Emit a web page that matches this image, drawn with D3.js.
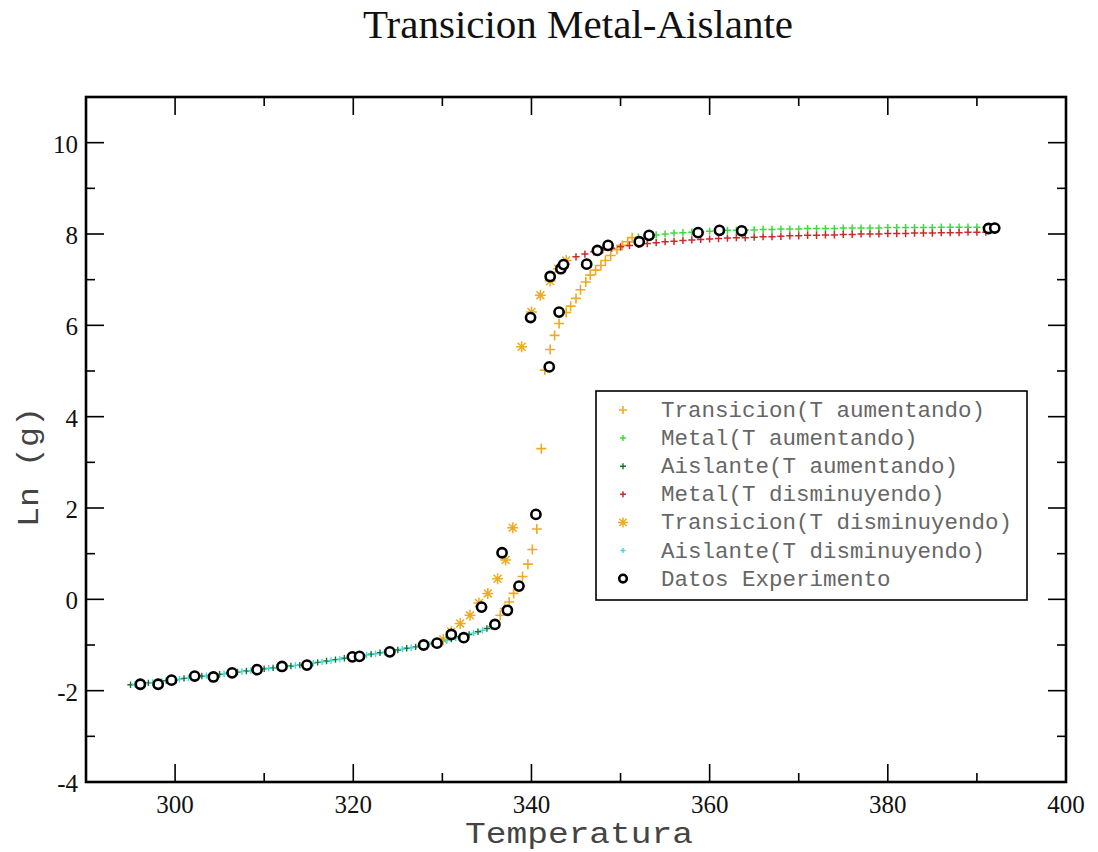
<!DOCTYPE html>
<html>
<head>
<meta charset="utf-8">
<script src="https://cdn.jsdelivr.net/npm/d3@7/dist/d3.min.js"></script>
<style>
  html, body { margin: 0; padding: 0; background: #fff; }
  svg { display: block; }
</style>
</head>
<body>
<svg id="chart" width="1098" height="852"></svg>
<script>
// ---- Data ----
// Transicion (T aumentando)
const transAumT = [336.5, 337.0, 337.5, 338.0, 339.0, 339.6, 340.1, 340.6, 341.1, 341.5, 342.1, 342.6, 343.1, 343.9, 344.4, 345.0, 345.5, 346.1, 346.6, 347.2, 347.8, 348.3, 348.9, 349.6, 350.2, 350.8, 351.3];
const transAumV = [-0.35, -0.20, -0.06, 0.13, 0.50, 0.77, 1.09, 1.54, 3.30, 5.02, 5.47, 5.78, 6.04, 6.28, 6.42, 6.59, 6.78, 6.95, 7.10, 7.21, 7.31, 7.42, 7.53, 7.66, 7.75, 7.83, 7.92];

// Metal (T aumentando)
const metalAumT = [352, 353, 354, 355, 356, 357, 358, 359, 360, 361, 362, 363, 364, 365, 366, 367, 368, 369, 370, 371, 372, 373, 374, 375, 376, 377, 378, 379, 380, 381, 382, 383, 384, 385, 386, 387, 388, 389, 390, 391];
const metalAumV = [7.93, 7.96, 7.98, 8.00, 8.02, 8.03, 8.04, 8.05, 8.06, 8.07, 8.08, 8.08, 8.09, 8.09, 8.10, 8.10, 8.11, 8.11, 8.11, 8.12, 8.12, 8.12, 8.12, 8.13, 8.13, 8.13, 8.13, 8.13, 8.14, 8.14, 8.14, 8.14, 8.14, 8.14, 8.15, 8.15, 8.15, 8.15, 8.15, 8.15];

// Aislante (T aumentando)
const aisAumT = [295, 296, 297, 298, 299, 300, 301, 302, 303, 304, 305, 306, 307, 308, 309, 310, 311, 312, 313, 314, 315, 316, 317, 318, 319, 320, 321, 322, 323, 324, 325, 326, 327, 328, 329, 330, 331, 332, 333, 334, 335, 336];
const aisAumV = [-1.87, -1.85, -1.83, -1.81, -1.78, -1.76, -1.73, -1.70, -1.68, -1.66, -1.64, -1.62, -1.59, -1.57, -1.54, -1.52, -1.50, -1.48, -1.46, -1.44, -1.41, -1.38, -1.35, -1.32, -1.29, -1.26, -1.23, -1.20, -1.17, -1.14, -1.11, -1.07, -1.04, -1.00, -0.96, -0.91, -0.87, -0.82, -0.77, -0.71, -0.64, -0.56];

// Metal (T disminuyendo)
const metalDisT = [345, 346, 347, 348, 349, 350, 351, 352, 353, 354, 355, 356, 357, 358, 359, 360, 361, 362, 363, 364, 365, 366, 367, 368, 369, 370, 371, 372, 373, 374, 375, 376, 377, 378, 379, 380, 381, 382, 383, 384, 385, 386, 387, 388, 389, 390, 391];
const metalDisV = [7.50, 7.56, 7.61, 7.65, 7.69, 7.72, 7.75, 7.77, 7.79, 7.81, 7.83, 7.84, 7.86, 7.87, 7.88, 7.89, 7.90, 7.91, 7.92, 7.92, 7.93, 7.94, 7.94, 7.95, 7.96, 7.96, 7.97, 7.97, 7.98, 7.98, 7.99, 7.99, 8.00, 8.00, 8.00, 8.01, 8.01, 8.01, 8.02, 8.02, 8.02, 8.03, 8.03, 8.03, 8.04, 8.04, 8.04];

// Transicion (T disminuyendo)
const transDisT = [330.1, 331.0, 332.0, 333.1, 334.1, 335.1, 336.2, 337.1, 337.9, 338.9, 340.0, 341.0, 342.1, 343.0, 343.9];
const transDisV = [-0.88, -0.71, -0.53, -0.35, -0.08, 0.13, 0.45, 0.86, 1.57, 5.53, 6.29, 6.66, 6.97, 7.24, 7.42];

// Aislante (T disminuyendo)
const aisDisT = [295.5, 296.5, 297.5, 298.5, 299.5, 300.5, 301.5, 302.5, 303.5, 304.5, 305.5, 306.5, 307.5, 308.5, 309.5, 310.5, 311.5, 312.5, 313.5, 314.5, 315.5, 316.5, 317.5, 318.5, 319.5, 320.5, 321.5, 322.5, 323.5, 324.5, 325.5, 326.5, 327.5, 328.5, 329.5, 330.5, 331.5, 332.5, 333.5, 334.5, 335.5];
const aisDisV = [-1.86, -1.84, -1.82, -1.80, -1.77, -1.75, -1.72, -1.69, -1.67, -1.65, -1.63, -1.61, -1.58, -1.56, -1.53, -1.51, -1.49, -1.47, -1.45, -1.43, -1.40, -1.37, -1.34, -1.31, -1.28, -1.25, -1.22, -1.19, -1.16, -1.13, -1.09, -1.06, -1.02, -0.98, -0.94, -0.89, -0.85, -0.80, -0.74, -0.68, -0.60];

// Datos Experimento
const expT = [296.1, 298.1, 299.6, 302.2, 304.3, 306.4, 309.2, 312.0, 314.8, 319.9, 320.7, 324.1, 327.9, 329.4, 331.0, 332.4, 334.4, 335.9, 336.7, 337.3, 338.6, 340.5, 342.0, 339.9, 343.1, 342.1, 343.3, 343.6, 346.2, 347.4, 348.6, 352.1, 353.2, 358.7, 361.1, 363.6, 391.3, 392.0];
const expV = [-1.86, -1.86, -1.77, -1.68, -1.70, -1.61, -1.54, -1.47, -1.44, -1.26, -1.25, -1.15, -1.00, -0.96, -0.77, -0.84, -0.17, -0.55, 1.02, -0.24, 0.29, 1.86, 5.09, 6.17, 6.29, 7.07, 7.24, 7.33, 7.34, 7.64, 7.75, 7.83, 7.97, 8.03, 8.08, 8.07, 8.12, 8.13];

// Axis ticks
const xMajorTicks = [300, 320, 340, 360, 380, 400];
const xMinorTicks = [290, 310, 330, 350, 370, 390];
const yMajorTicks = [-4, -2, 0, 2, 4, 6, 8, 10];
const yMinorTicks = [-3, -1, 1, 3, 5, 7, 9, 11];

// Series definitions (drawing order follows legend order)
const series = [
  { name: "Transicion(T aumentando)",   t: transAumT, v: transAumV, color: "#f0aa20", shape: "plus",  size: 5,   legendSize: 4,   width: 1.6 },
  { name: "Metal(T aumentando)",        t: metalAumT, v: metalAumV, color: "#3cdc3c", shape: "plus",  size: 3.6, legendSize: 3,   width: 1.5 },
  { name: "Aislante(T aumentando)",     t: aisAumT,   v: aisAumV,   color: "#1c6e2c", shape: "plus",  size: 3.2, legendSize: 3,   width: 1.4 },
  { name: "Metal(T disminuyendo)",      t: metalDisT, v: metalDisV, color: "#cc2a2a", shape: "plus",  size: 3.6, legendSize: 3,   width: 1.5 },
  { name: "Transicion(T disminuyendo)", t: transDisT, v: transDisV, color: "#f0aa20", shape: "star",  size: 5.5, legendSize: 5,   width: 1.5 },
  { name: "Aislante(T disminuyendo)",   t: aisDisT,   v: aisDisV,   color: "#38dcdc", shape: "plus",  size: 3.2, legendSize: 2.5, width: 1.4 },
  { name: "Datos Experimento",          t: expT,      v: expV,      color: "#000000", shape: "circle", size: 4.6, legendSize: 3.8, width: 2.6 }
];

// ---- Layout ----
const svg = d3.select("#chart");
const W = 1098, H = 852;
const plot = { left: 86, right: 1066, top: 97, bottom: 782 };

svg.append("rect").attr("width", W).attr("height", H).attr("fill", "#fff");

const x = d3.scaleLinear().domain([290, 400]).range([plot.left, plot.right]);
const y = d3.scaleLinear().domain([-4, 11]).range([plot.bottom, plot.top]);

// Marker path generators
function markerPath(shape, s) {
  if (shape === "plus") return `M${-s},0H${s}M0,${-s}V${s}`;
  if (shape === "star") {
    const d = s * 0.72;
    return `M${-s},0H${s}M0,${-s}V${s}M${-d},${-d}L${d},${d}M${-d},${d}L${d},${-d}`;
  }
  return null;
}

function drawMarkers(g, data, sdef, s) {
  if (sdef.shape === "circle") {
    g.selectAll("circle").data(data).join("circle")
      .attr("cx", d => d[0]).attr("cy", d => d[1]).attr("r", s)
      .attr("fill", "#fff").attr("stroke", sdef.color).attr("stroke-width", sdef.width);
  } else {
    g.selectAll("path").data(data).join("path")
      .attr("transform", d => `translate(${d[0]},${d[1]})`)
      .attr("d", markerPath(sdef.shape, s))
      .attr("fill", "none").attr("stroke", sdef.color).attr("stroke-width", sdef.width);
  }
}

// ---- Series ----
const marks = svg.append("g");
series.forEach(sd => {
  const pts = sd.t.map((t, i) => [x(t), y(sd.v[i])]);
  drawMarkers(marks.append("g"), pts, sd, sd.size);
});

// ---- Frame and ticks ----
const axisG = svg.append("g").attr("stroke", "#000").attr("stroke-width", 1.6);
const majorLen = 18, minorLen = 9;

// bottom & top ticks
xMajorTicks.concat(xMinorTicks).forEach(t => {
  const len = xMajorTicks.includes(t) ? majorLen : minorLen;
  if (t <= 290 || t >= 400) return;
  axisG.append("line").attr("x1", x(t)).attr("x2", x(t)).attr("y1", plot.bottom).attr("y2", plot.bottom - len);
  axisG.append("line").attr("x1", x(t)).attr("x2", x(t)).attr("y1", plot.top).attr("y2", plot.top + len);
});
// left & right ticks
yMajorTicks.concat(yMinorTicks).forEach(v => {
  const len = yMajorTicks.includes(v) ? majorLen : minorLen;
  if (v <= -4 || v >= 11) return;
  axisG.append("line").attr("y1", y(v)).attr("y2", y(v)).attr("x1", plot.left).attr("x2", plot.left + len);
  axisG.append("line").attr("y1", y(v)).attr("y2", y(v)).attr("x1", plot.right).attr("x2", plot.right - len);
});

svg.append("rect")
  .attr("x", plot.left).attr("y", plot.top)
  .attr("width", plot.right - plot.left).attr("height", plot.bottom - plot.top)
  .attr("fill", "none").attr("stroke", "#000").attr("stroke-width", 2.6);

// tick labels
const serif = "'Liberation Serif', 'DejaVu Serif', serif";
const mono = "'Liberation Mono', 'DejaVu Sans Mono', monospace";

svg.append("g").selectAll("text").data(xMajorTicks).join("text")
  .attr("x", d => x(d)).attr("y", plot.bottom + 31)
  .attr("text-anchor", "middle")
  .attr("font-family", serif).attr("font-size", 25).attr("fill", "#111")
  .text(d => d);

svg.append("g").selectAll("text").data(yMajorTicks).join("text")
  .attr("x", plot.left - 8).attr("y", d => y(d) + 10)
  .attr("text-anchor", "end")
  .attr("font-family", serif).attr("font-size", 25).attr("fill", "#111")
  .text(d => d);

// ---- Titles ----
svg.append("text")
  .attr("x", 578).attr("y", 38)
  .attr("text-anchor", "middle")
  .attr("font-family", serif).attr("font-size", 41).attr("fill", "#111")
  .text("Transicion Metal-Aislante");

svg.append("text")
  .attr("x", 579).attr("y", 843)
  .attr("text-anchor", "middle")
  .attr("font-family", mono).attr("font-size", 30).attr("fill", "#444")
  .attr("textLength", 228).attr("lengthAdjust", "spacingAndGlyphs")
  .text("Temperatura");

svg.append("text")
  .attr("transform", "translate(38,467) rotate(-90)")
  .attr("text-anchor", "middle")
  .attr("font-family", mono).attr("font-size", 30).attr("fill", "#444")
  .attr("textLength", 120).attr("lengthAdjust", "spacingAndGlyphs")
  .text("Ln (g)");

// ---- Legend ----
const legend = svg.append("g");
legend.append("rect")
  .attr("x", 596).attr("y", 391).attr("width", 431).attr("height", 209)
  .attr("fill", "#fff").attr("stroke", "#000").attr("stroke-width", 1.6);

series.forEach((sd, i) => {
  const cy = 410 + i * 28.1;
  const g = legend.append("g");
  drawMarkers(g, [[623, cy]], sd, sd.legendSize);
  legend.append("text")
    .attr("x", 661).attr("y", cy + 7)
    .attr("font-family", mono).attr("font-size", 22.5).attr("fill", "#666")
    .text(sd.name);
});
</script>
</body>
</html>
